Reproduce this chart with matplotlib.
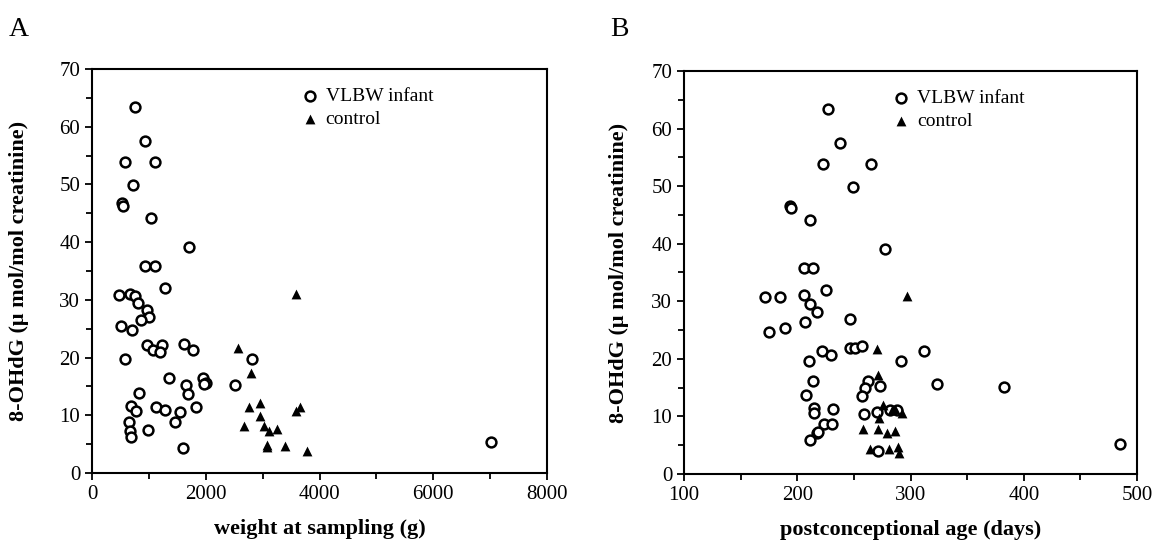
import numpy as np
import matplotlib.pyplot as plt
from matplotlib.ticker import MultipleLocator

plt.rcParams['font.family'] = ['Liberation Serif', 'DejaVu Serif']

# Panel A : poids au prélèvement (g)
vlbw_weight = [756, 931, 574, 1101, 715, 521, 551, 1042, 1699, 931, 1113,
               1277, 475, 668, 750, 803, 972, 996, 855, 510, 703,
               961, 1072, 1230, 1201, 1623, 1775, 574, 2806,
               1353, 1945, 2004, 1960, 1658, 1681, 2508, 826,
               680, 768, 1130, 1288, 1833, 1547, 1459, 650, 663, 691, 979, 1594,
               7007]
vlbw_ohdg_a = [63.4, 57.5, 53.9, 53.9, 49.9, 46.7, 46.2, 44.1, 39.2, 35.8, 35.8,
               32.1, 30.8, 31.1, 30.7, 29.5, 28.2, 27.0, 26.5, 25.5, 24.7,
               22.1, 21.4, 22.1, 20.9, 22.4, 21.4, 19.8, 19.8,
               16.5, 16.5, 15.6, 15.4, 15.2, 13.7, 15.2, 13.9,
               11.6, 10.8, 11.4, 11.0, 11.4, 10.6, 8.9, 8.8, 7.2, 6.2, 7.4, 4.3,
               5.3]
ctrl_weight = [3580, 2560, 2794, 2765, 2958, 2958, 2677, 3017, 3111, 3257,
               3081, 3081, 3392, 3779, 3580, 3650]
ctrl_ohdg_a = [31.0, 21.7, 17.3, 11.4, 12.2, 9.9, 8.2, 8.2, 7.3, 7.7,
               4.9, 4.5, 4.6, 3.9, 10.8, 11.4]

# Panel B : âge postconceptionnel (jours)
vlbw_age = [226.8, 238.0, 222.7, 265.0, 248.9, 193.3, 194.4, 211.2, 277.7,
            205.6, 214.1, 225.1, 171.8, 184.7, 205.6, 210.9, 217.6, 206.5, 246.8,
            175.0, 189.4, 246.8, 250.9, 257.1, 221.5, 230.0, 210.3, 291.5,
            311.8, 323.3, 382.4, 485.0,
            214.1, 207.7, 262.4, 260.0, 257.1, 272.7,
            214.7, 214.7, 231.2, 259.1, 270.6, 281.8, 287.7,
            223.8, 230.4, 217.1, 218.5, 210.9, 271.0]
vlbw_ohdg_b = [63.4, 57.5, 53.9, 53.9, 49.9, 46.6, 46.2, 44.1, 39.1,
               35.7, 35.7, 32.0, 30.7, 30.7, 31.1, 29.5, 28.1, 26.4, 26.9,
               24.6, 25.3, 21.9, 21.9, 22.2, 21.3, 20.7, 19.7, 19.7,
               21.4, 15.6, 15.1, 5.2,
               16.2, 13.8, 16.2, 15.0, 13.5, 15.2,
               11.4, 10.6, 11.3, 10.5, 10.8, 11.2, 11.2,
               8.7, 8.7, 7.1, 7.3, 5.9, 4.0]
ctrl_age = [296.5, 270.6, 271.2, 275.9, 271.8, 283.3, 286.0, 292.1,
            258.3, 271.2, 279.4, 286.5, 264.4, 280.7, 289.1, 290.0]
ctrl_ohdg_b = [30.9, 21.7, 17.2, 12.0, 9.7, 11.1, 11.3, 10.6,
               7.9, 7.9, 7.1, 7.5, 4.4, 4.4, 4.7, 3.7]

ylab = "8-OHdG (\u03bc mol/mol creatinine)"

fig = plt.figure(figsize=(11.52, 5.49), dpi=100)
axA = fig.add_axes([0.0799, 0.1384, 0.3949, 0.7359])
axB = fig.add_axes([0.5938, 0.1366, 0.3932, 0.7341])

circ = dict(marker='o', s=50, facecolors='white', edgecolors='black', linewidths=1.8)
tri = dict(marker='^', s=50, color='black', linewidths=0)

for ax, xv, yv, xc, yc, pad in [(axA, vlbw_weight, vlbw_ohdg_a, ctrl_weight, ctrl_ohdg_a, 22),
                                (axB, vlbw_age, vlbw_ohdg_b, ctrl_age, ctrl_ohdg_b, 16)]:
    ax.scatter(xv, yv, label="VLBW infant", zorder=3, **circ)
    ax.scatter(xc, yc, label="control", zorder=3, **tri)
    ax.set_ylim(0, 70)
    ax.yaxis.set_major_locator(MultipleLocator(10))
    ax.yaxis.set_minor_locator(MultipleLocator(5))
    ax.tick_params(which='both', direction='out', width=1.3, labelsize=15)
    ax.tick_params(which='major', length=5)
    ax.tick_params(which='minor', length=4)
    for sp in ax.spines.values():
        sp.set_linewidth(1.5)
    ax.set_ylabel(ylab, fontsize=16, fontweight='bold', labelpad=pad)
    ax.legend(loc='upper left', frameon=False, fontsize=14, handlelength=1.0,
              handletextpad=0.3, borderpad=0, borderaxespad=0, labelspacing=0.3,
              bbox_to_anchor=(0.458, 0.955))

axA.set_xlim(0, 8000)
axA.xaxis.set_major_locator(MultipleLocator(2000))
axA.xaxis.set_minor_locator(MultipleLocator(1000))
axA.set_xlabel("weight at sampling (g)", fontsize=16, fontweight='bold', labelpad=11)

axB.set_xlim(100, 500)
axB.xaxis.set_major_locator(MultipleLocator(100))
axB.xaxis.set_minor_locator(MultipleLocator(50))
axB.set_xlabel("postconceptional age (days)", fontsize=16, fontweight='bold', labelpad=11)

fig.text(0.008, 0.935, "A", fontsize=20)
fig.text(0.530, 0.935, "B", fontsize=20)

fig.savefig("out.png", dpi=100)
